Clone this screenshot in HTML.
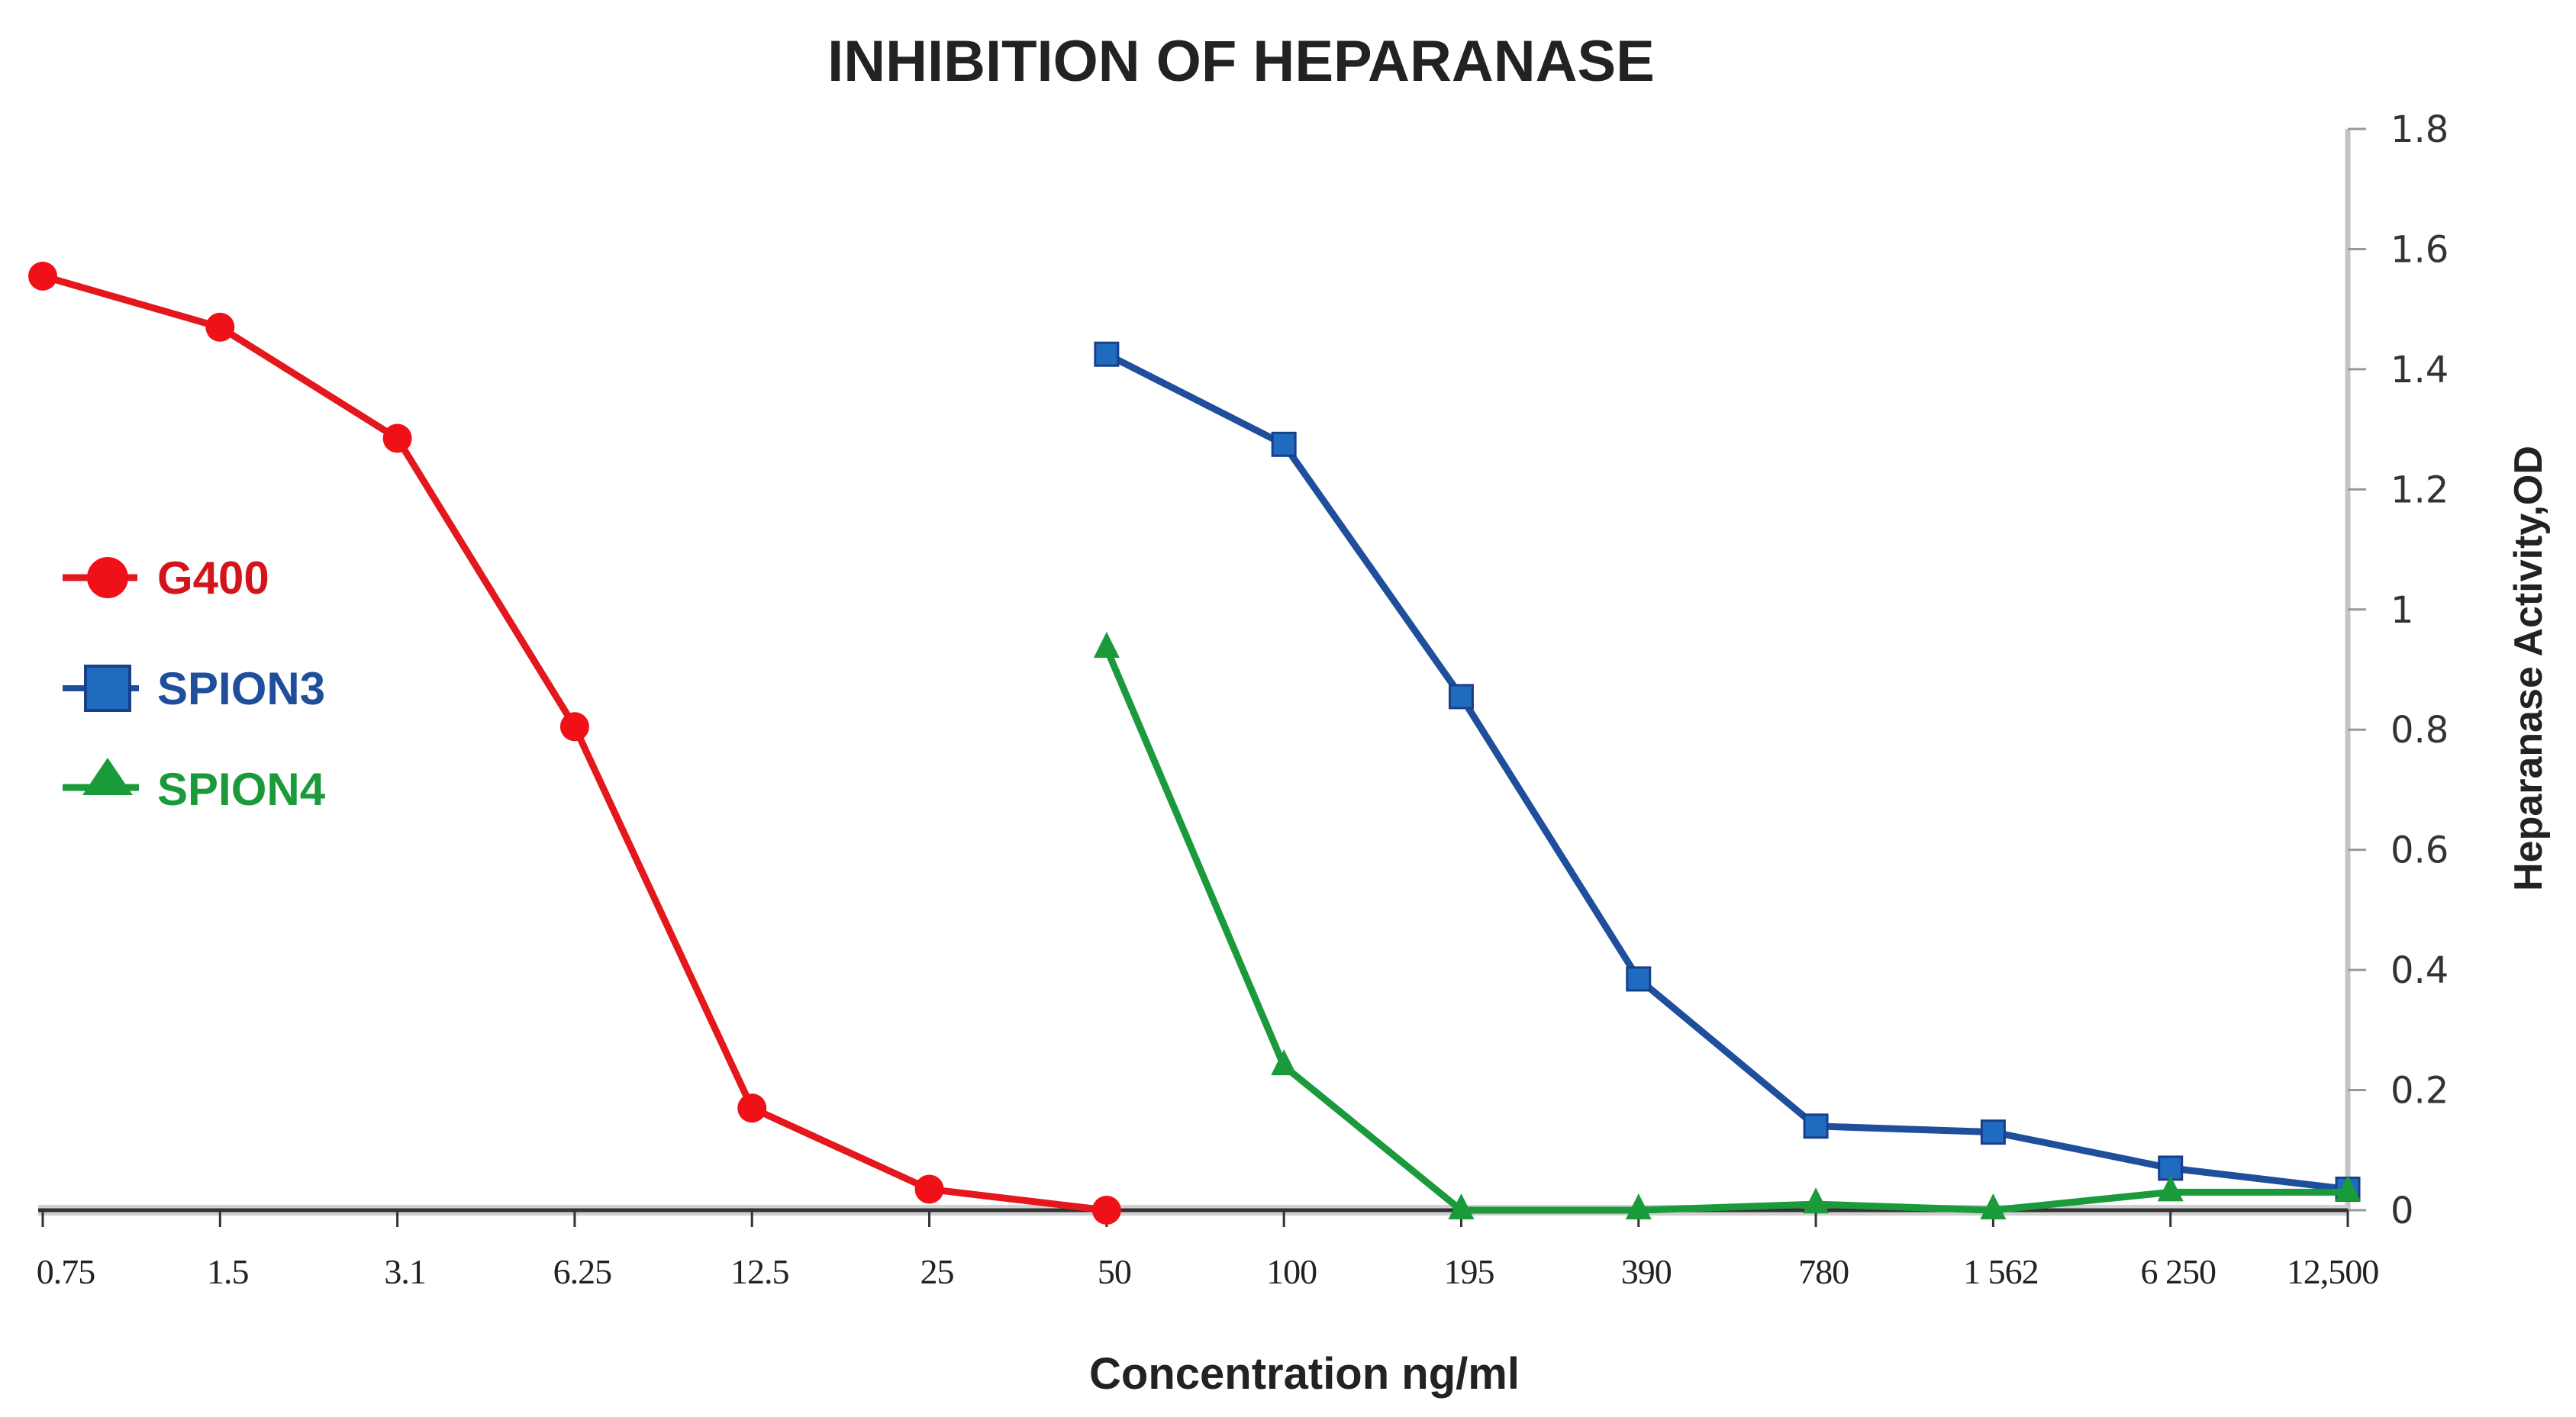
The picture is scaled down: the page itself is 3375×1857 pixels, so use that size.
<!DOCTYPE html>
<html><head><meta charset="utf-8"><style>
html,body{margin:0;padding:0;background:#fff;}
svg{display:block;}
</style></head><body>
<svg id="chart" width="3375" height="1857" viewBox="0 0 3375 1857" xmlns="http://www.w3.org/2000/svg">
<text x="1626" y="106" text-anchor="middle" font-family="Liberation Sans, sans-serif" font-weight="bold" font-size="76" fill="#222">INHIBITION OF HEPARANASE</text>
<text x="1709" y="1820" text-anchor="middle" font-family="Liberation Sans, sans-serif" font-weight="bold" font-size="58" fill="#222">Concentration ng/ml</text>
<text transform="translate(3330,876) rotate(-90)" text-anchor="middle" font-family="Liberation Sans, sans-serif" font-weight="bold" font-size="52" fill="#222">Heparanase Activity,OD</text>
<g id="axes"></g>
<g id="series"></g>
<g>
 <g>
  <line x1="82" y1="757" x2="180" y2="757" stroke="#e3171c" stroke-width="9"/>
  <circle cx="141" cy="757" r="27" fill="#f01018"/>
  <text x="206" y="778" font-family="Liberation Sans, sans-serif" font-weight="bold" font-size="60" fill="#d4141b">G400</text>
 </g>
 <g>
  <line x1="82" y1="902" x2="182" y2="902" stroke="#1f4e9c" stroke-width="8"/>
  <rect x="112" y="873" width="58" height="58" fill="#1f6bc0" stroke="#1a3f8a" stroke-width="4"/>
  <text x="206" y="923" font-family="Liberation Sans, sans-serif" font-weight="bold" font-size="60" fill="#1f4e9c">SPION3</text>
 </g>
 <g>
  <line x1="82" y1="1032" x2="182" y2="1032" stroke="#1a9a3a" stroke-width="9"/>
  <polygon points="141,993 108,1042 174,1042" fill="#1a9a3a"/>
  <text x="206" y="1055" font-family="Liberation Sans, sans-serif" font-weight="bold" font-size="60" fill="#1a9a3a">SPION4</text>
 </g>
</g>
</svg>
<script>
const categories = ["0.75","1.5","3.1","6.25","12.5","25","50","100","195","390","780","1 562","6 250","12,500"];
const yTicks = [0,0.2,0.4,0.6,0.8,1,1.2,1.4,1.6,1.8];
const yTickLabels = ["0","0.2","0.4","0.6","0.8","1","1.2","1.4","1.6","1.8"];
const g400Values = [1.555,1.47,1.285,0.805,0.17,0.035,0];
const g400Start = 0;
const spion3Values = [1.425,1.275,0.855,0.385,0.14,0.13,0.07,0.035];
const spion3Start = 6;
const spion4Values = [0.935,0.24,0,0,0.01,0,0.03,0.03];
const spion4Start = 6;

const NS="http://www.w3.org/2000/svg";
const X0=56, X1=3076, Y0=1586, Y1=169, YMAX=1.8;
function xPos(i){return X0+(X1-X0)*i/(categories.length-1);}
function yPos(v){return Y0-(Y0-Y1)*v/YMAX;}
function mk(tag,attrs,parent){const e=document.createElementNS(NS,tag);for(const k in attrs)e.setAttribute(k,attrs[k]);parent.appendChild(e);return e;}
const axes=document.getElementById('axes');
const series=document.getElementById('series');

const ya=mk('line',{x1:X1,y1:Y1,x2:X1,y2:Y0,stroke:'#c4c4c4','stroke-width':7},axes);


yTicks.forEach((t,i)=>{
 const tk=mk('line',{x1:X1,y1:yPos(t),x2:X1+24,y2:yPos(t),stroke:'#999','stroke-width':3},axes);
 
 
 const tl=mk('text',{x:3132,y:yPos(t)+17,'font-family':'DejaVu Sans, sans-serif','font-size':48,fill:'#333'},axes);
 tl.textContent=yTickLabels[i];
 
 
});
mk('line',{x1:X0-6,y1:Y0,x2:X1,y2:Y0,stroke:'#d0d0d0','stroke-width':14},axes);
const xa=mk('line',{x1:X0-6,y1:Y0,x2:X1,y2:Y0,stroke:'#333','stroke-width':5},axes);


categories.forEach((c,i)=>{
 const tk=mk('line',{x1:xPos(i),y1:Y0,x2:xPos(i),y2:Y0+22,stroke:'#333','stroke-width':3},axes);
 
 
 const tl=mk('text',{x:xPos(i)+(i==0?30:(i==categories.length-1?-20:10)),y:1682,'text-anchor':'middle','font-family':'Liberation Serif, serif','font-size':46,fill:'#222',style:'letter-spacing:-1px'},axes);
 tl.textContent=c;
 
 
});

function drawSeries(name,vals,start,color,mcolor,shape){
 const g=mk('g',{},series);
 
 
 const pts=vals.map((v,i)=>xPos(start+i)+','+yPos(v)).join(' ');
 const pl=mk('polyline',{points:pts,fill:'none',stroke:color,'stroke-width':9,'stroke-linejoin':'round'},g);
 
 
 vals.forEach((v,i)=>{
  const x=xPos(start+i), y=yPos(v); let m;
  if(shape==='circle') m=mk('circle',{cx:x,cy:y,r:19,fill:mcolor},g);
  else if(shape==='square') m=mk('rect',{x:x-15,y:y-15,width:30,height:30,fill:mcolor,stroke:'#1a3f8a','stroke-width':3},g);
  else m=mk('polygon',{points:`${x},${y-22} ${x-17},${y+12} ${x+17},${y+12}`,fill:mcolor},g);
  
  
 });
}
drawSeries('g400',g400Values,g400Start,'#e3171c','#f01018','circle');
drawSeries('spion3',spion3Values,spion3Start,'#1f4e9c','#1f6bc0','square');
drawSeries('spion4',spion4Values,spion4Start,'#1a9a3a','#1a9a3a','triangle');
</script>
</body></html>
